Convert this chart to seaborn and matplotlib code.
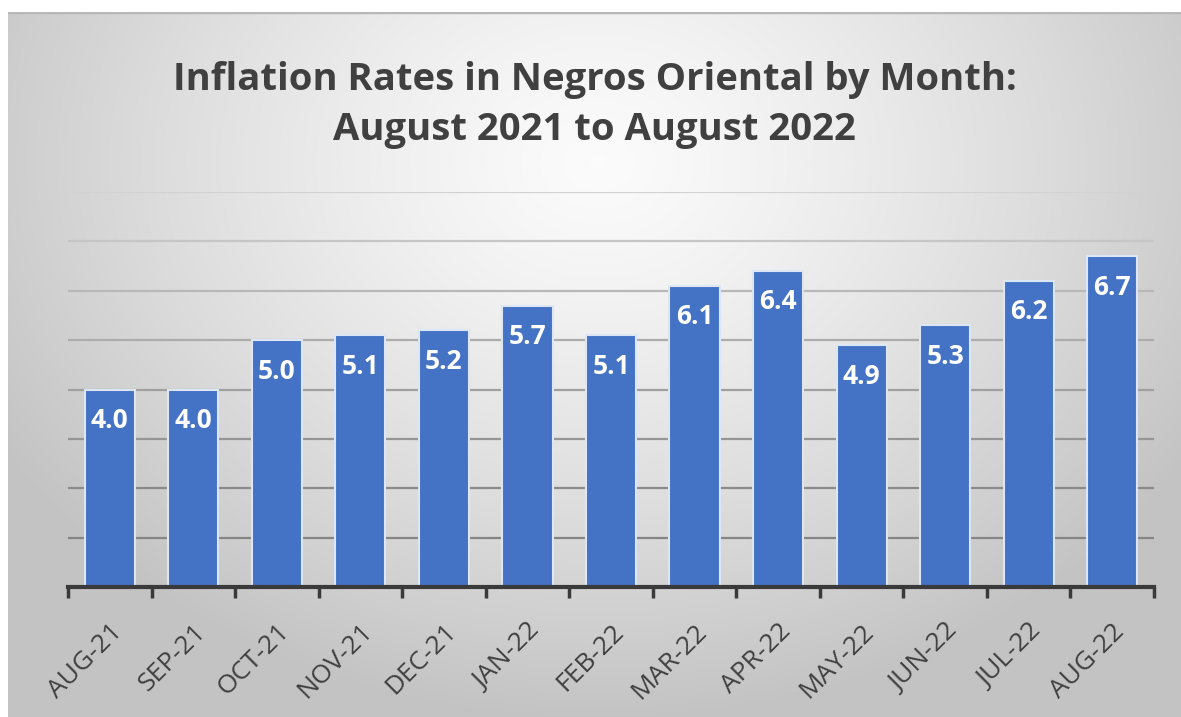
import numpy as np
import pandas as pd
import matplotlib
matplotlib.use("Agg")
import matplotlib.pyplot as plt
import seaborn as sns

months = ["AUG-21", "SEP-21", "OCT-21", "NOV-21", "DEC-21", "JAN-22", "FEB-22",
          "MAR-22", "APR-22", "MAY-22", "JUN-22", "JUL-22", "AUG-22"]
rates = [4.0, 4.0, 5.0, 5.1, 5.2, 5.7, 5.1, 6.1, 6.4, 4.9, 5.3, 6.2, 6.7]
title = "Inflation Rates in Negros Oriental by Month:\nAugust 2021 to August 2022"

sns.set_theme(style="white")
plt.rcParams['font.family'] = ['Open Sans', 'DejaVu Sans']

W, H = 1181, 717
fig = plt.figure(figsize=(W / 100, H / 100), dpi=100)
fig.patch.set_facecolor("white")

# background radial gradient panel
bg = fig.add_axes([8 / W, 0, 1 - 8 / W, 1 - 12 / H])
yy, xx = np.mgrid[0:705, 0:1173]
cx, cy = 590, 150
r = np.sqrt(((xx - cx) / 700.0) ** 2 + ((yy - cy) / 560.0) ** 2)
r = np.clip(r, 0, 1)
lum = 0.985 - 0.22 * r ** 1.3
img = np.dstack([lum, lum, lum])
bg.imshow(img, aspect="auto", extent=[0, 1, 0, 1], origin="upper")
bg.axhline(1, color="#b8b8b8", lw=2.5)
bg.set_axis_off()

ax = fig.add_axes([68 / W, 1 - 587 / H, (1154 - 68) / W, (587 - 192) / H])
ax.patch.set_alpha(0)

df = pd.DataFrame({"month": months, "rate": rates})

# gridlines (darker near bottom)
grid_cols = ["#858585", "#8a8a8a", "#959595", "#a0a0a0", "#acacac", "#b8b8b8", "#c6c6c6", "#d2d2d2"]
for i, c in enumerate(grid_cols, start=1):
    ax.axhline(i, color=c, lw=1.6, zorder=0)

sns.barplot(data=df, x="month", y="rate", color="#4472C4", saturation=1,
            width=0.6, edgecolor="#dce6f5", linewidth=1.5, ax=ax, zorder=2)

ax.set_ylim(0, 8)
ax.set_xlim(-0.5, len(months) - 0.5)
for s in ["top", "right", "left"]:
    ax.spines[s].set_visible(False)
ax.spines["bottom"].set_color("#3a3a3a")
ax.spines["bottom"].set_linewidth(3)
ax.spines["bottom"].set_zorder(5)
ax.set_yticks([])
ax.set_xlabel("")
ax.set_ylabel("")

ax.set_xticks(range(len(months)))
ax.set_xticks(np.arange(-0.5, len(months), 1.0), minor=True)
ax.tick_params(axis="x", which="minor", bottom=True, length=8, width=2.5,
               color="#3a3a3a", direction="out")
ax.tick_params(axis="x", which="major", bottom=False, length=0, pad=23)
ax.set_xticklabels(months, rotation=45, ha="right", rotation_mode="anchor",
                   color="#404040", fontsize=19)

for cont in ax.containers:
    ax.bar_label(cont, labels=[f"{v:.1f}" for v in rates], padding=-32,
                 color="white", fontsize=19, fontweight="bold")

fig.text(0.5 + 4 / W, 1 - 105 / H, title, ha="center", va="center",
         fontsize=27.5, fontweight="bold", color="#404040", linespacing=1.4)

fig.savefig("out.png", dpi=100, facecolor=fig.get_facecolor())
